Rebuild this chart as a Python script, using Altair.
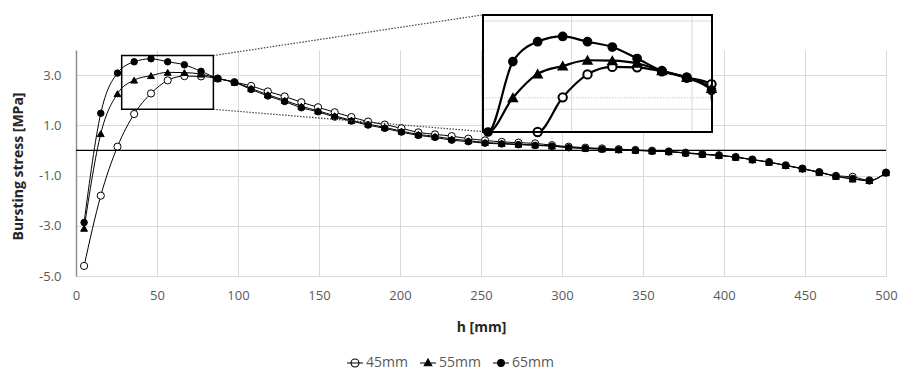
import altair as alt
import pandas as pd

# ---------------- data ----------------
h_mm = [5.0, 15.3, 25.6, 35.9, 46.3, 56.6, 66.9, 77.2, 87.5, 97.8, 108.1, 118.4,
        128.8, 139.1, 149.4, 159.7, 170.0, 180.3, 190.6, 200.9, 211.3, 221.6,
        231.9, 242.2, 252.5, 262.8, 273.1, 283.4, 293.8, 304.1, 314.4, 324.7,
        335.0, 345.3, 355.6, 365.9, 376.3, 386.6, 396.9, 407.2, 417.5, 427.8,
        438.1, 448.4, 458.8, 469.1, 479.4, 489.7, 500.0]

s45 = [-4.60, -1.80, 0.15, 1.45, 2.27, 2.79, 2.96, 2.95, 2.86, 2.72, 2.57, 2.35,
       2.15, 1.92, 1.72, 1.52, 1.33, 1.15, 1.03, 0.88, 0.72, 0.64,
       0.57, 0.47, 0.40, 0.34, 0.31, 0.28, 0.21, 0.15, 0.11, 0.08,
       0.05, 0.02, -0.01, -0.04, -0.09, -0.14, -0.19, -0.26, -0.36, -0.46,
       -0.59, -0.72, -0.86, -1.01, -1.05, -1.19, -0.88]

s55 = [-3.10, 0.67, 2.26, 2.80, 2.98, 3.11, 3.10, 3.04, 2.87, 2.72, 2.47, 2.22,
       2.00, 1.76, 1.58, 1.38, 1.20, 1.05, 0.92, 0.77, 0.64, 0.56,
       0.46, 0.39, 0.32, 0.28, 0.25, 0.22, 0.18, 0.12, 0.09, 0.06,
       0.03, 0.01, -0.02, -0.05, -0.10, -0.15, -0.20, -0.27, -0.37, -0.47,
       -0.60, -0.73, -0.87, -1.03, -1.14, -1.20, -0.89]

s65 = [-2.87, 1.48, 3.08, 3.53, 3.65, 3.53, 3.41, 3.15, 2.87, 2.71, 2.43, 2.17,
       1.95, 1.70, 1.54, 1.33, 1.17, 1.01, 0.88, 0.73, 0.60, 0.52,
       0.41, 0.35, 0.29, 0.26, 0.23, 0.20, 0.17, 0.11, 0.08, 0.05,
       0.03, 0.00, -0.03, -0.05, -0.11, -0.16, -0.20, -0.27, -0.37, -0.47,
       -0.60, -0.73, -0.87, -1.03, -1.12, -1.21, -0.89]

series_names = ["45mm", "55mm", "65mm"]
x_ticks = [0, 50, 100, 150, 200, 250, 300, 350, 400, 450, 500]
y_ticks = [-5, -3, -1, 1, 3]

# zoom box (main coordinates) and connector ends
zoom_box_h = [28.2, 84.8]
zoom_box_v = [1.64, 3.78]
conn_start_h = [84.8, 84.8]
conn_start_v = [3.78, 1.64]
conn_end_h = [251.2, 251.2]
conn_end_v = [5.40, 0.75]

# inset window (inset coordinates)
inset_h = [13.2, 108.3]
inset_v = [1.484, 4.136]
inset_grid_h = [50, 100]
inset_grid_v = [2.0, 4.0]
inset_dot_v = [2.26]

FONT = "Open Sans"
GRID = "#d9d9d9"

rows = []
for name, vals in zip(series_names, [s45, s55, s65]):
    for i, (h, v) in enumerate(zip(h_mm, vals)):
        rows.append({"series": name, "h": h, "v": v, "i": i})
df = pd.DataFrame(rows)

# ---------------- scales ----------------
W, H = 810, 226
mx_scale = alt.Scale(domain=[0, 500], nice=False, zero=False)
my_scale = alt.Scale(domain=[-5, 4], nice=False, zero=False)
ix_scale = alt.Scale(domain=inset_h, range=[407, 636], nice=False, zero=False, clamp=True)
iy_scale = alt.Scale(domain=inset_v, range=[82, -35], nice=False, zero=False, clamp=True)

fill_scale = alt.Scale(domain=series_names, range=["white", "black", "black"])
shape_scale = alt.Scale(domain=series_names, range=["circle", "triangle-up", "circle"])

x_axis = alt.Axis(values=x_ticks, title="h [mm]", grid=True, gridColor=GRID, gridWidth=1,
                  domain=False, ticks=False, labelPadding=13, labelFontSize=13,
                  labelColor="#595959", labelFont=FONT, labelFlush=False,
                  titleFont=FONT, titleFontSize=14, titleFontWeight="bold",
                  titleColor="#262626", titleY=51, titleBaseline="middle")
y_axis = alt.Axis(values=y_ticks, title="Bursting stress [MPa]", grid=True, gridColor=GRID,
                  gridWidth=1, domain=True, domainColor="#8f8f8f", domainWidth=1.5,
                  ticks=False, labelPadding=15, labelFontSize=13, labelColor="#595959",
                  labelFont=FONT, labelFlush=False,
                  labelExpr="replace(format(datum.value, '.1f'), '\u2212', '-')",
                  titleFont=FONT, titleFontSize=14, titleFontWeight="bold",
                  titleColor="#262626", titleX=-58, titleY=116, titleBaseline="middle")

base = alt.Chart(df)

# ---------------- main chart ----------------
main_lines = base.mark_line(interpolate="monotone", color="black", strokeWidth=1).encode(
    x=alt.X("h:Q", scale=mx_scale, axis=x_axis),
    y=alt.Y("v:Q", scale=my_scale, axis=y_axis),
    detail="series:N",
    order="i:Q",
)

main_points = base.mark_point(filled=True, stroke="black", strokeWidth=1, opacity=1).encode(
    x=alt.X("h:Q", scale=mx_scale, axis=None),
    y=alt.Y("v:Q", scale=my_scale, axis=None),
    shape=alt.Shape("series:N", scale=shape_scale, legend=None),
    fill=alt.Fill("series:N", scale=fill_scale, legend=None),
    size=alt.Size("series:N", scale=alt.Scale(domain=series_names, range=[52, 42, 40]), legend=None),
)

zero_rule = alt.Chart(pd.DataFrame({"z": [0]})).mark_rule(color="black", strokeWidth=1.3).encode(
    y=alt.Y("z:Q", scale=my_scale, axis=None)
)

box_df = pd.DataFrame({"h": [zoom_box_h[0]], "h2": [zoom_box_h[1]],
                       "v": [zoom_box_v[0]], "v2": [zoom_box_v[1]]})
zoom_box = alt.Chart(box_df).mark_rect(fillOpacity=0, stroke="black", strokeWidth=1.5).encode(
    x=alt.X("h:Q", scale=mx_scale, axis=None), x2="h2:Q",
    y=alt.Y("v:Q", scale=my_scale, axis=None), y2="v2:Q",
)

conn_df = pd.DataFrame({"h": conn_start_h, "v": conn_start_v, "h2": conn_end_h, "v2": conn_end_v})
connectors = alt.Chart(conn_df).mark_rule(color="#404040", strokeWidth=1.2,
                                          strokeDash=[1.5, 1.5]).encode(
    x=alt.X("h:Q", scale=mx_scale, axis=None), x2="h2:Q",
    y=alt.Y("v:Q", scale=my_scale, axis=None), y2="v2:Q",
)

# legend (line + marker symbols)
leg_paths = [
    "M-2,0L2,0M1,0A1,1,0,1,1,-1,0A1,1,0,1,1,1,0Z",
    "M-2,0L2,0M0,-1L0.95,0.7L-0.95,0.7Z",
    "M-2,0L2,0M0.85,0A0.85,0.85,0,1,1,-0.85,0A0.85,0.85,0,1,1,0.85,0Z",
]
leg = alt.Legend(orient="none", legendX=272, legendY=306, direction="horizontal", title=None,
                 symbolSize=64, symbolStrokeWidth=1.1, labelFont=FONT, labelFontSize=14,
                 labelColor="#595959", labelOffset=4, columnPadding=9, padding=0)
legend_layer = base.transform_filter("false").mark_point(
    filled=False, strokeWidth=1.1, opacity=1).encode(
    shape=alt.Shape("series:N", scale=alt.Scale(domain=series_names, range=leg_paths), legend=leg),
    fill=alt.Fill("series:N", scale=alt.Scale(domain=series_names,
                                              range=["white", "black", "black"]), legend=leg),
    stroke=alt.Stroke("series:N", scale=alt.Scale(domain=series_names,
                                                  range=["black", "black", "black"]), legend=leg),
)

# ---------------- inset ----------------
inset_bg_df = pd.DataFrame({"h": [inset_h[0]], "h2": [inset_h[1]],
                            "v": [inset_v[0]], "v2": [inset_v[1]]})
inset_bg = alt.Chart(inset_bg_df).mark_rect(fill="white", stroke=None).encode(
    x=alt.X("h:Q", scale=ix_scale, axis=None), x2="h2:Q",
    y=alt.Y("v:Q", scale=iy_scale, axis=None), y2="v2:Q",
)
inset_border = alt.Chart(inset_bg_df).mark_rect(fillOpacity=0, stroke="black", strokeWidth=2).encode(
    x=alt.X("h:Q", scale=ix_scale, axis=None), x2="h2:Q",
    y=alt.Y("v:Q", scale=iy_scale, axis=None), y2="v2:Q",
)

ivgrid_df = pd.DataFrame({"h": inset_grid_h, "v": [inset_v[0]] * 2, "v2": [inset_v[1]] * 2})
inset_vgrid = alt.Chart(ivgrid_df).mark_rule(color=GRID, strokeWidth=1).encode(
    x=alt.X("h:Q", scale=ix_scale, axis=None),
    y=alt.Y("v:Q", scale=iy_scale, axis=None), y2="v2:Q",
)
ihgrid_df = pd.DataFrame({"v": inset_grid_v, "h": [inset_h[0]] * 2, "h2": [inset_h[1]] * 2})
inset_hgrid = alt.Chart(ihgrid_df).mark_rule(color=GRID, strokeWidth=1).encode(
    y=alt.Y("v:Q", scale=iy_scale, axis=None),
    x=alt.X("h:Q", scale=ix_scale, axis=None), x2="h2:Q",
)
idot_df = pd.DataFrame({"v": inset_dot_v, "h": [inset_h[0]], "h2": [inset_h[1]]})
inset_dot = alt.Chart(idot_df).mark_rule(color="#c8c8c8", strokeWidth=1, strokeDash=[1.5, 1.5]).encode(
    y=alt.Y("v:Q", scale=iy_scale, axis=None),
    x=alt.X("h:Q", scale=ix_scale, axis=None), x2="h2:Q",
)

inset_lines = base.transform_filter("datum.h <= 120").mark_line(
    interpolate="monotone", color="black", strokeWidth=2.2).encode(
    x=alt.X("h:Q", scale=ix_scale, axis=None),
    y=alt.Y("v:Q", scale=iy_scale, axis=None),
    detail="series:N",
    order="i:Q",
)
inset_points = base.transform_filter(
    "datum.h >= 13 && datum.h <= 108.3 && datum.v >= 1.44").mark_point(
    filled=True, stroke="black", strokeWidth=2, opacity=1).encode(
    x=alt.X("h:Q", scale=ix_scale, axis=None),
    y=alt.Y("v:Q", scale=iy_scale, axis=None),
    shape=alt.Shape("series:N", scale=shape_scale, legend=None),
    fill=alt.Fill("series:N", scale=fill_scale, legend=None),
    size=alt.Size("series:N", scale=alt.Scale(domain=series_names, range=[70, 60, 55]), legend=None),
)

chart = alt.layer(
    main_lines, main_points, zero_rule, zoom_box, connectors, legend_layer,
    inset_bg, inset_vgrid, inset_hgrid, inset_dot, inset_lines, inset_points, inset_border,
).resolve_scale(
    x="independent", y="independent", shape="independent", fill="independent",
    size="independent", stroke="independent"
).properties(
    width=W, height=H,
    padding={"left": 68, "top": 42, "right": 14, "bottom": 95},
    autosize=alt.AutoSizeParams(type="none"),
    background="white",
).configure_view(stroke=None)

chart.save("out.html", embed_options={"renderer": "svg", "actions": False})
